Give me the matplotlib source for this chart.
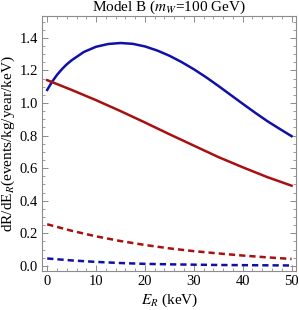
import matplotlib
matplotlib.use("Agg")
import matplotlib.pyplot as plt
import numpy as np
from matplotlib.ticker import MultipleLocator

plt.rcParams["font.family"] = ["Liberation Serif", "DejaVu Serif"]
plt.rcParams["mathtext.fontset"] = "stix"

# recoil energy grid (keV)
E_FINE = [0, 1, 2, 3, 4, 5, 7.5, 10, 12.5, 15, 17.5, 20, 22.5, 25, 27.5, 30,
          32.5, 35, 37.5, 40, 42.5, 45, 47.5, 50]
E_COARSE = [0, 5, 10, 15, 20, 25, 30, 35, 40, 45, 50]

BLUE_SOLID = [1.08, 1.13, 1.172, 1.207, 1.237, 1.262, 1.313, 1.345, 1.362,
              1.368, 1.363, 1.347, 1.322, 1.29, 1.251, 1.207, 1.158, 1.105,
              1.05, 0.995, 0.941, 0.889, 0.842, 0.796]
RED_SOLID = [1.14, 1.08, 1.017, 0.95, 0.88, 0.808, 0.738, 0.668, 0.605,
             0.545, 0.492]
RED_DASHED = [0.255, 0.215, 0.181, 0.152, 0.128, 0.107, 0.09, 0.076, 0.063,
              0.052, 0.042]
BLUE_DASHED = [0.045, 0.033, 0.024, 0.017, 0.012, 0.009, 0.007, 0.005,
               0.004, 0.003, 0.002]

BLUE = "#1010a8"
RED = "#a81010"
FRAME = "#8c8c8c"

fig = plt.figure(figsize=(2.99, 3.10), dpi=100)
ax = fig.add_axes([0.1415, 0.1268, 0.8500, 0.8222])

lw = 1.8
ax.plot(E_FINE, BLUE_SOLID, color=BLUE, lw=lw)
ax.plot(E_COARSE, RED_SOLID, color=RED, lw=lw)
ax.plot(E_COARSE, RED_DASHED, color=RED, lw=lw, dashes=(2.5, 1.6))
ax.plot(E_COARSE, BLUE_DASHED, color=BLUE, lw=lw, dashes=(2.5, 1.6))

ax.set_xlim(-1, 51)
ax.set_ylim(-0.03, 1.535)
ax.xaxis.set_major_locator(MultipleLocator(10))
ax.xaxis.set_minor_locator(MultipleLocator(2))
ax.yaxis.set_major_locator(MultipleLocator(0.2))
ax.yaxis.set_minor_locator(MultipleLocator(0.05))
ax.yaxis.set_major_formatter(matplotlib.ticker.FormatStrFormatter("%.1f"))

for side in ax.spines.values():
    side.set_color(FRAME)
    side.set_linewidth(0.8)
ax.tick_params(which="both", direction="in", top=True, right=True,
               color=FRAME, labelsize=10.5, pad=3)
ax.tick_params(which="major", length=4, width=0.7)
ax.tick_params(which="minor", length=2, width=0.6)

ax.set_title("Model B ($m_W$=100 GeV)", fontsize=11, pad=1.5)
ax.set_xlabel("$E_R$ (keV)", fontsize=11, labelpad=3)
ax.set_ylabel("dR/dE$_R$(events/kg/year/keV)", fontsize=11, labelpad=2)

fig.savefig("out.png", dpi=100)
